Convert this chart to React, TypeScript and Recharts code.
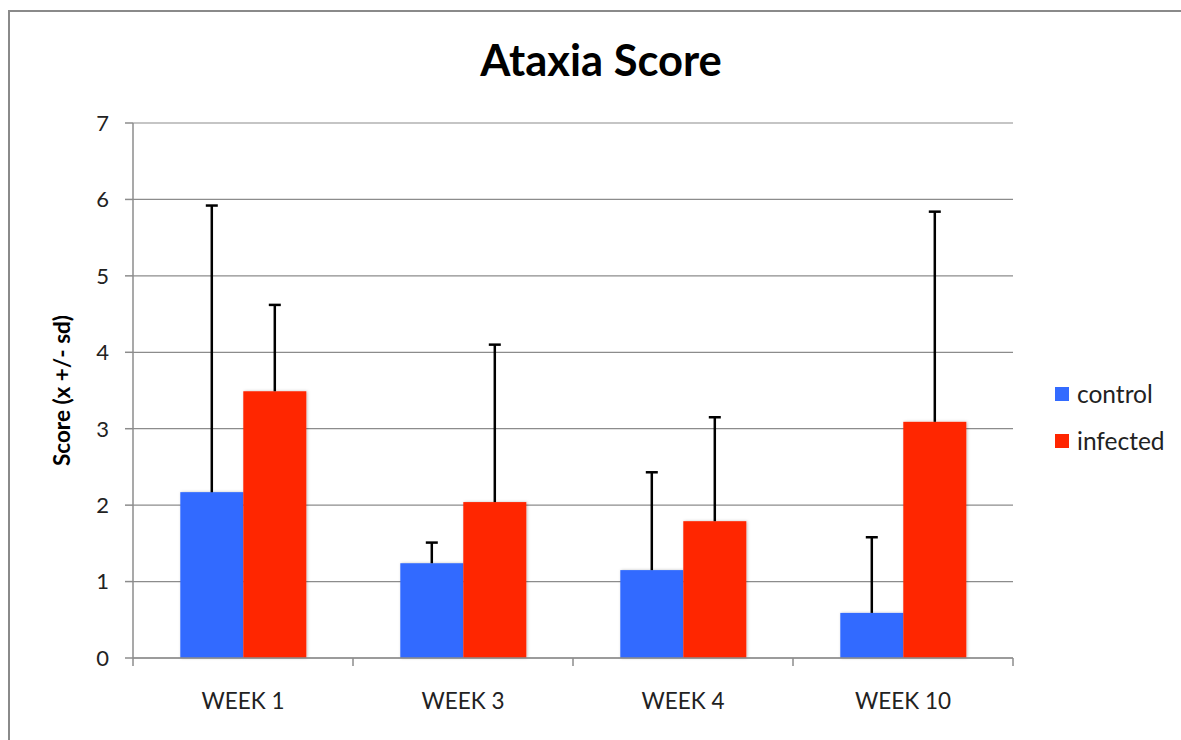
import React from "react";
import { BarChart, Bar, XAxis, YAxis, CartesianGrid } from "recharts";

const categories = ["WEEK 1", "WEEK 3", "WEEK 4", "WEEK 10"];
const controlValues = [2.17, 1.24, 1.15, 0.59];
const controlSd = [3.75, 0.27, 1.28, 0.99];
const infectedValues = [3.49, 2.04, 1.79, 3.09];
const infectedSd = [1.13, 2.06, 1.36, 2.75];
const yTicks = [0, 1, 2, 3, 4, 5, 6, 7];
const seriesNames = ["control", "infected"];
const seriesColors = ["#336BFF", "#FF2500"];

const data = categories.map((c, i) => ({
  name: c,
  control: controlValues[i],
  controlSd: controlSd[i],
  infected: infectedValues[i],
  infectedSd: infectedSd[i],
}));

const FONT = "Lato, 'Open Sans', sans-serif";

const makeShape = (fill: string, sdKey: string) => (props: any) => {
  const { x, y, width, height, payload, value } = props;
  const v = Array.isArray(value) ? value[1] - value[0] : value;
  const pxPerUnit = v ? height / v : 0;
  const err = payload[sdKey] * pxPerUnit;
  const cx = x + width / 2;
  const top = y - err;
  return (
    <g>
      <rect x={x} y={y} width={width} height={height} fill={fill} filter="url(#barShadow)" />
      <line x1={cx} y1={y} x2={cx} y2={top} stroke="#000" strokeWidth={2.5} />
      <line x1={cx - 6} y1={top} x2={cx + 6} y2={top} stroke="#000" strokeWidth={2.5} />
    </g>
  );
};

const XTick = (props: any) => {
  const { x, y, payload, index } = props;
  const off = payload.offset || 0;
  return (
    <g>
      <line x1={x - off} y1={y - 8} x2={x - off} y2={y} stroke="#8c8c8c" strokeWidth={1.5} />
      {index === categories.length - 1 && (
        <line x1={x + off} y1={y - 8} x2={x + off} y2={y} stroke="#8c8c8c" strokeWidth={1.5} />
      )}
      <text x={x} y={y + 43} textAnchor="middle" fontFamily={FONT} fontSize={22.5} fill="#222">
        {payload.value}
      </text>
    </g>
  );
};

export default function App() {
  return (
    <div style={{ position: "absolute", left: 0, top: 0, width: 1181, height: 740, background: "#fff", overflow: "hidden" }}>
      <div
        style={{
          position: "absolute",
          left: 8,
          top: 10,
          width: 1300,
          height: 900,
          borderLeft: "2.5px solid #8a8a8a",
          borderTop: "2.5px solid #8a8a8a",
        }}
      />
      <div
        style={{
          position: "absolute",
          left: 0,
          width: 1202,
          top: 33,
          textAlign: "center",
          fontFamily: FONT,
          fontWeight: 700,
          fontSize: 43.5,
          color: "#000",
        }}
      >
        Ataxia Score
      </div>
      <div style={{ position: "absolute", left: 1055, top: 370, fontFamily: FONT, fontSize: 24.5, color: "#222" }}>
        {seriesNames.map((n, i) => (
          <div key={n} style={{ display: "flex", alignItems: "center", height: 47 }}>
            <div style={{ width: 14, height: 14, background: seriesColors[i], marginRight: 8 }} />
            <span>{n}</span>
          </div>
        ))}
      </div>
      <div style={{ position: "absolute", left: 0, top: 0 }}>
        <BarChart
          width={1181}
          height={740}
          data={data}
          margin={{ top: 123, right: 168, left: 73, bottom: 32 }}
          barCategoryGap="21.5%"
          barGap={0}
        >
          <defs>
            <filter id="barShadow" x="-20%" y="-5%" width="140%" height="110%">
              <feDropShadow dx="1" dy="0" stdDeviation="1.5" floodColor="#000" floodOpacity="0.25" />
            </filter>
          </defs>
          <CartesianGrid vertical={false} stroke="#8c8c8c" strokeWidth={1.2} />
          <XAxis
            dataKey="name"
            height={50}
            axisLine={{ stroke: "#8c8c8c", strokeWidth: 1.5 }}
            tickLine={false}
            tick={<XTick />}
            interval={0}
          />
          <YAxis
            width={60}
            domain={[0, 7]}
            ticks={yTicks}
            interval={0}
            axisLine={{ stroke: "#8c8c8c", strokeWidth: 1.5 }}
            tickLine={{ stroke: "#8c8c8c", strokeWidth: 1.5 }}
            tickSize={8}
            tickMargin={16}
            tick={{ fontFamily: FONT, fontSize: 22, fill: "#222" }}
            label={{
              value: "Score (x +/- sd)",
              angle: -90,
              position: "insideLeft",
              offset: -11,
              style: { fontFamily: FONT, fontSize: 22.5, fontWeight: 700, fill: "#000", textAnchor: "middle" },
            }}
          />
          <Bar dataKey="control" fill={seriesColors[0]} isAnimationActive={false} shape={makeShape(seriesColors[0], "controlSd")} />
          <Bar dataKey="infected" fill={seriesColors[1]} isAnimationActive={false} shape={makeShape(seriesColors[1], "infectedSd")} />
        </BarChart>
      </div>
    </div>
  );
}
